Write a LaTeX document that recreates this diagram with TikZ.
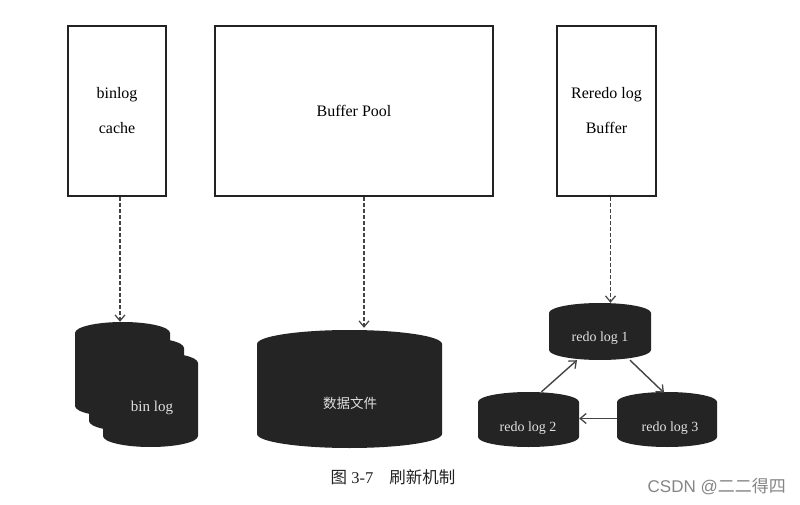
\documentclass[tikz,border=0pt]{standalone}
\usepackage{fontspec}
\setmainfont{Liberation Serif}
\newfontfamily\cjk{Noto Sans CJK SC}
\newfontfamily\wmsans{Liberation Sans}
\usetikzlibrary{arrows.meta,calc}
\definecolor{ink}{HTML}{222222}
\definecolor{cylcol}{HTML}{242424}
\definecolor{flowcol}{HTML}{444444}
\newcommand\mycyl[5]{% cx cy w h ry
  \pgfmathsetmacro\cxl{#1-#3/2}\pgfmathsetmacro\cxr{#1+#3/2}%
  \pgfmathsetmacro\cyt{#2+#4/2-#5}\pgfmathsetmacro\cyb{#2-#4/2+#5}%
  \pgfmathsetmacro\crx{#3/2}%
  \fill[cylcol]
    (\cxl pt,\cyt pt) arc[start angle=180,end angle=0,x radius=\crx pt,y radius=#5pt]
    -- (\cxr pt,\cyb pt) arc[start angle=0,end angle=-180,x radius=\crx pt,y radius=#5pt]
    -- cycle;}
\tikzset{
  membox/.style={draw=ink,line width=1.8pt,fill=white,align=center,
    font=\fontsize{16}{35}\selectfont,inner sep=0pt},
  cylbody/.style={inner sep=0pt,draw=none},
  cyltext/.style={text=white!88!black,inner sep=0pt},
  flushline/.style={draw=flowcol,line width=1.1pt,dash pattern=on 4pt off 2pt,
    -{Straight Barb[length=6pt,width=10pt,line width=1.2pt]}},
  flow/.style={draw=flowcol,line width=1.4pt,
    -{Straight Barb[length=6pt,width=10pt,line width=1.3pt]}}
}
\begin{document}
\begin{tikzpicture}[x=1pt,y=1pt]
\useasboundingbox (0,0) rectangle (800,504);
\fill[white] (0,0) rectangle (800,504);
% memory boxes
\node[membox,minimum width=98pt,minimum height=170pt] (bc) at (117,393) {binlog\\cache};
\node[membox,minimum width=278pt,minimum height=170pt] (bp) at (354,393) {Buffer Pool};
\node[membox,minimum width=99pt,minimum height=170pt] (rb) at (606.5,393) {Reredo log\\Buffer};
% bin log stack
\mycyl{122.5}{134.5}{95}{95}{11}
\mycyl{136.5}{119.5}{95}{95}{11}
\mycyl{150.5}{104.5}{95}{95}{11}
\node[cylbody,minimum width=95pt,minimum height=95pt] (b1) at (122.5,134.5) {};
\node[cylbody,minimum width=95pt,minimum height=95pt] (b3) at (150.5,104.5) {};
\node[cyltext,font=\fontsize{15}{18}\selectfont] (bt) at (152,96) {bin log};
% data file
\mycyl{349.5}{115}{185}{118}{14}
\node[cylbody,minimum width=185pt,minimum height=118pt] (df) at (349.5,115) {};
\node[cyltext,font=\cjk\fontsize{13.5}{16}\selectfont] (dt) at (350,101) {数据文件};
% redo logs
\mycyl{600}{172.5}{102}{57}{10}
\mycyl{528.5}{84.5}{101}{55}{10}
\mycyl{667}{84.5}{100}{55}{10}
\node[cylbody,minimum width=102pt,minimum height=57pt] (r1) at (600,172.5) {};
\node[cylbody,minimum width=101pt,minimum height=55pt] (r2) at (528.5,84.5) {};
\node[cylbody,minimum width=100pt,minimum height=55pt] (r3) at (667,84.5) {};
\node[cyltext,font=\fontsize{14}{16}\selectfont] (t1) at (600,166) {redo log 1};
\node[cyltext,font=\fontsize{14}{16}\selectfont] (t2) at (528,76) {redo log 2};
\node[cyltext,font=\fontsize{14}{16}\selectfont] (t3) at (670,76) {redo log 3};
% flush arrows
\draw[flushline] ([xshift=3pt]bc.south) -- ([xshift=3pt]bc.south |- b1.north);
\draw[flushline] ([xshift=10pt]bp.south) -- ([xshift=10pt,yshift=2pt]bp.south |- df.north);
\draw[flushline] ([xshift=4pt]rb.south) -- ([xshift=4pt]rb.south |- r1.north);
% redo cycle
\draw[flow] ([xshift=13pt]r2.north) -- ([xshift=-23pt]r1.south);
\draw[flow] ([xshift=30pt]r1.south) -- ([xshift=-3pt,yshift=-1pt]r3.north);
\draw[flow] ([yshift=1pt]r3.west) -- ([yshift=1pt]r2.east);
% caption and watermark
\node[text=ink,font=\fontsize{16.5}{18}\selectfont] (cap) at (393,27) {{\cjk 图} 3-7\hspace{16pt}{\cjk 刷新机制}};
\node[anchor=east,text=black!48,font=\fontsize{17}{20}\selectfont,inner sep=0pt] (wm) at (786,17) {\wmsans CSDN @\cjk 二二得四};
\end{tikzpicture}
\end{document}
